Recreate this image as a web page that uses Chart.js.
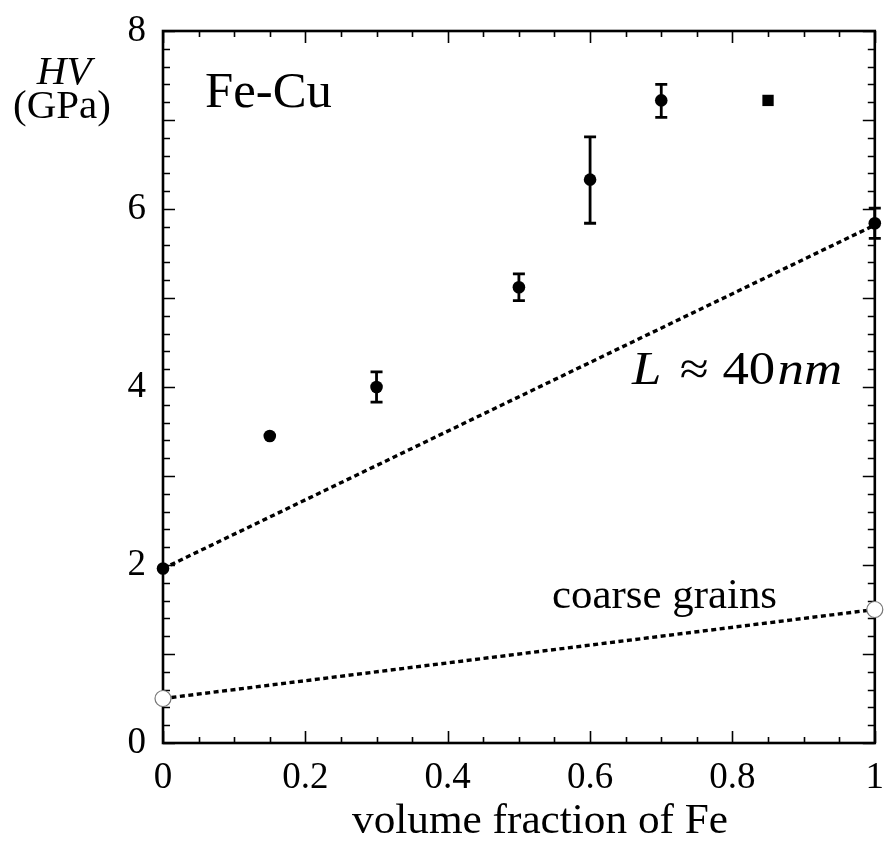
<!DOCTYPE html>
<html><head><meta charset="utf-8">
<script src="https://cdn.jsdelivr.net/npm/chart.js@4.4.0/dist/chart.umd.min.js"></script>
<style>html,body{margin:0;padding:0;background:#fff}</style>
</head><body>
<canvas id="c" width="884" height="848" style="display:block;width:884px;height:848px"></canvas>
<script>
// ---- data ----
const fractionFe  = [0, 0.15, 0.30, 0.50, 0.60, 0.70, 0.85, 1.00];
const hardness    = [1.96, 3.45, 4.00, 5.12, 6.33, 7.22, 7.22, 5.84];
const errLow      = [0, 0, 0.17, 0.15, 0.49, 0.19, 0, 0.17];
const errHigh     = [0, 0, 0.17, 0.15, 0.48, 0.18, 0, 0.17];
const markerStyle = ['circle','circle','circle','circle','circle','circle','rect','circle'];
const nanoLineX   = [0, 1];
const nanoLineY   = [1.96, 5.82];
const coarseX     = [0, 1];
const coarseY     = [0.5, 1.5];
const xTickLabels = [0, 0.2, 0.4, 0.6, 0.8, 1];
const yTickLabels = [0, 2, 4, 6, 8];
const xMinorStep = 0.05, xMajorStep = 0.2;
const yMinorStep = 0.2,  yMajorStep = 1;

const SERIF = "'Liberation Serif', 'Times New Roman', serif";

const framePlugin = {
  id: 'frame',
  beforeDatasetsDraw(chart) {
    const {ctx, chartArea: a, scales: {x, y}} = chart;
    ctx.save();
    ctx.strokeStyle = '#000';
    ctx.lineWidth = 1.6;
    ctx.beginPath();
    for (let i = 0; i <= Math.round(1 / xMinorStep); i++) {
      const v = i * xMinorStep;
      const major = Math.abs(v / xMajorStep - Math.round(v / xMajorStep)) < 1e-6;
      const len = major ? 12 : 6;
      const px = Math.round(x.getPixelForValue(v)) + 0.5;
      ctx.moveTo(px, a.bottom); ctx.lineTo(px, a.bottom - len);
      ctx.moveTo(px, a.top); ctx.lineTo(px, a.top + len);
    }
    for (let i = 0; i <= Math.round(8 / yMinorStep); i++) {
      const v = i * yMinorStep;
      const major = Math.abs(v / yMajorStep - Math.round(v / yMajorStep)) < 1e-6;
      const len = major ? 12 : 7;
      const py = Math.round(y.getPixelForValue(v)) + 0.5;
      ctx.moveTo(a.left, py); ctx.lineTo(a.left + len, py);
      ctx.moveTo(a.right, py); ctx.lineTo(a.right - len, py);
    }
    ctx.stroke();
    ctx.lineWidth = 2.6;
    ctx.strokeRect(a.left, a.top, a.right - a.left, a.bottom - a.top);
    ctx.lineWidth = 2.8;
    ctx.beginPath();
    fractionFe.forEach((fx, i) => {
      if (!errLow[i] && !errHigh[i]) return;
      const px = x.getPixelForValue(fx);
      const y1 = y.getPixelForValue(hardness[i] - errLow[i]);
      const y2 = y.getPixelForValue(hardness[i] + errHigh[i]);
      ctx.moveTo(px, y1); ctx.lineTo(px, y2);
      ctx.moveTo(px - 6, y1); ctx.lineTo(px + 6, y1);
      ctx.moveTo(px - 6, y2); ctx.lineTo(px + 6, y2);
    });
    ctx.stroke();
    ctx.restore();
  },
  afterDraw(chart) {
    const {ctx} = chart;
    ctx.save();
    ctx.fillStyle = '#000';
    ctx.textBaseline = 'alphabetic';
    function fitted(text, font, left, baseline, width) {
      ctx.font = font;
      const w = ctx.measureText(text).width;
      const s = width ? width / w : 1;
      ctx.save();
      ctx.translate(left, baseline);
      ctx.scale(s, 1);
      ctx.textAlign = 'left';
      ctx.fillText(text, 0, 0);
      ctx.restore();
    }
    fitted('Fe-Cu', '50px ' + SERIF, 205, 107, 127);
    ctx.textAlign = 'center';
    ctx.font = 'italic 41px ' + SERIF;
    ctx.fillText('HV', 64, 84);
    ctx.font = '41px ' + SERIF;
    ctx.fillText('(GPa)', 62, 118);
    fitted('coarse grains', '42px ' + SERIF, 552, 608, 225);
    fitted('volume fraction of Fe', '42px ' + SERIF, 352, 833, 376);
    const parts = [
      ['L', 'italic 46px ' + SERIF, 0],
      ['≈', '46px ' + SERIF, 16],
      ['40', '46px ' + SERIF, 12],
      ['nm', 'italic 46px ' + SERIF, 2]
    ];
    let total = 0;
    parts.forEach(p => { ctx.font = p[1]; total += p[2] + ctx.measureText(p[0]).width; });
    const sc = 210 / total;
    ctx.save();
    ctx.translate(632, 384);
    ctx.scale(sc, 1);
    ctx.textAlign = 'left';
    let cx = 0;
    parts.forEach(p => { cx += p[2]; ctx.font = p[1]; ctx.fillText(p[0], cx, 0); cx += ctx.measureText(p[0]).width; });
    ctx.restore();
    ctx.restore();
  }
};

new Chart(document.getElementById('c'), {
  type: 'scatter',
  data: {
    datasets: [
      {
        label: 'Fe-Cu',
        data: fractionFe.map((v, i) => ({x: v, y: hardness[i]})),
        pointStyle: markerStyle,
        pointRadius: markerStyle.map(s => s === 'rect' ? 8 : 6.3),
        backgroundColor: '#000', borderColor: '#000', borderWidth: 0,
        showLine: false, clip: false, order: 1
      },
      {
        label: 'L ≈ 40nm',
        data: nanoLineX.map((v, i) => ({x: v, y: nanoLineY[i]})),
        showLine: true, borderColor: '#000', borderWidth: 3.4, borderDash: [5, 3.5],
        pointRadius: 0, clip: false, order: 3
      },
      {
        label: 'coarse grains',
        data: coarseX.map((v, i) => ({x: v, y: coarseY[i]})),
        showLine: true, borderColor: '#000', borderWidth: 3.4, borderDash: [5, 3.5],
        pointRadius: 8, pointBackgroundColor: '#fff', pointBorderColor: '#777', pointBorderWidth: 1.2,
        clip: false, order: 2
      }
    ]
  },
  options: {
    responsive: false, animation: false, devicePixelRatio: 1,
    layout: {padding: {left: 0, right: 8, top: 31, bottom: 0}},
    plugins: {legend: {display: false}, tooltip: {enabled: false}},
    scales: {
      x: {
        type: 'linear', min: 0, max: 1,
        afterBuildTicks: s => { s.ticks = xTickLabels.map(v => ({value: v})); },
        ticks: {font: {family: SERIF, size: 37}, color: '#000', padding: 13, maxRotation: 0, autoSkip: false,
                callback: v => String(v)},
        grid: {display: false, drawTicks: false},
        border: {display: false},
        afterFit: s => { s.height = 105; s.paddingLeft = 0; s.paddingRight = 0; }
      },
      y: {
        type: 'linear', min: 0, max: 8,
        afterBuildTicks: s => { s.ticks = yTickLabels.map(v => ({value: v})); },
        ticks: {font: {family: SERIF, size: 37}, color: '#000', padding: 17, autoSkip: false,
                callback: v => String(v)},
        grid: {display: false, drawTicks: false},
        border: {display: false},
        afterFit: s => { s.width = 163; s.paddingTop = 0; s.paddingBottom = 0; }
      }
    }
  },
  plugins: [framePlugin]
});
</script>
</body></html>
